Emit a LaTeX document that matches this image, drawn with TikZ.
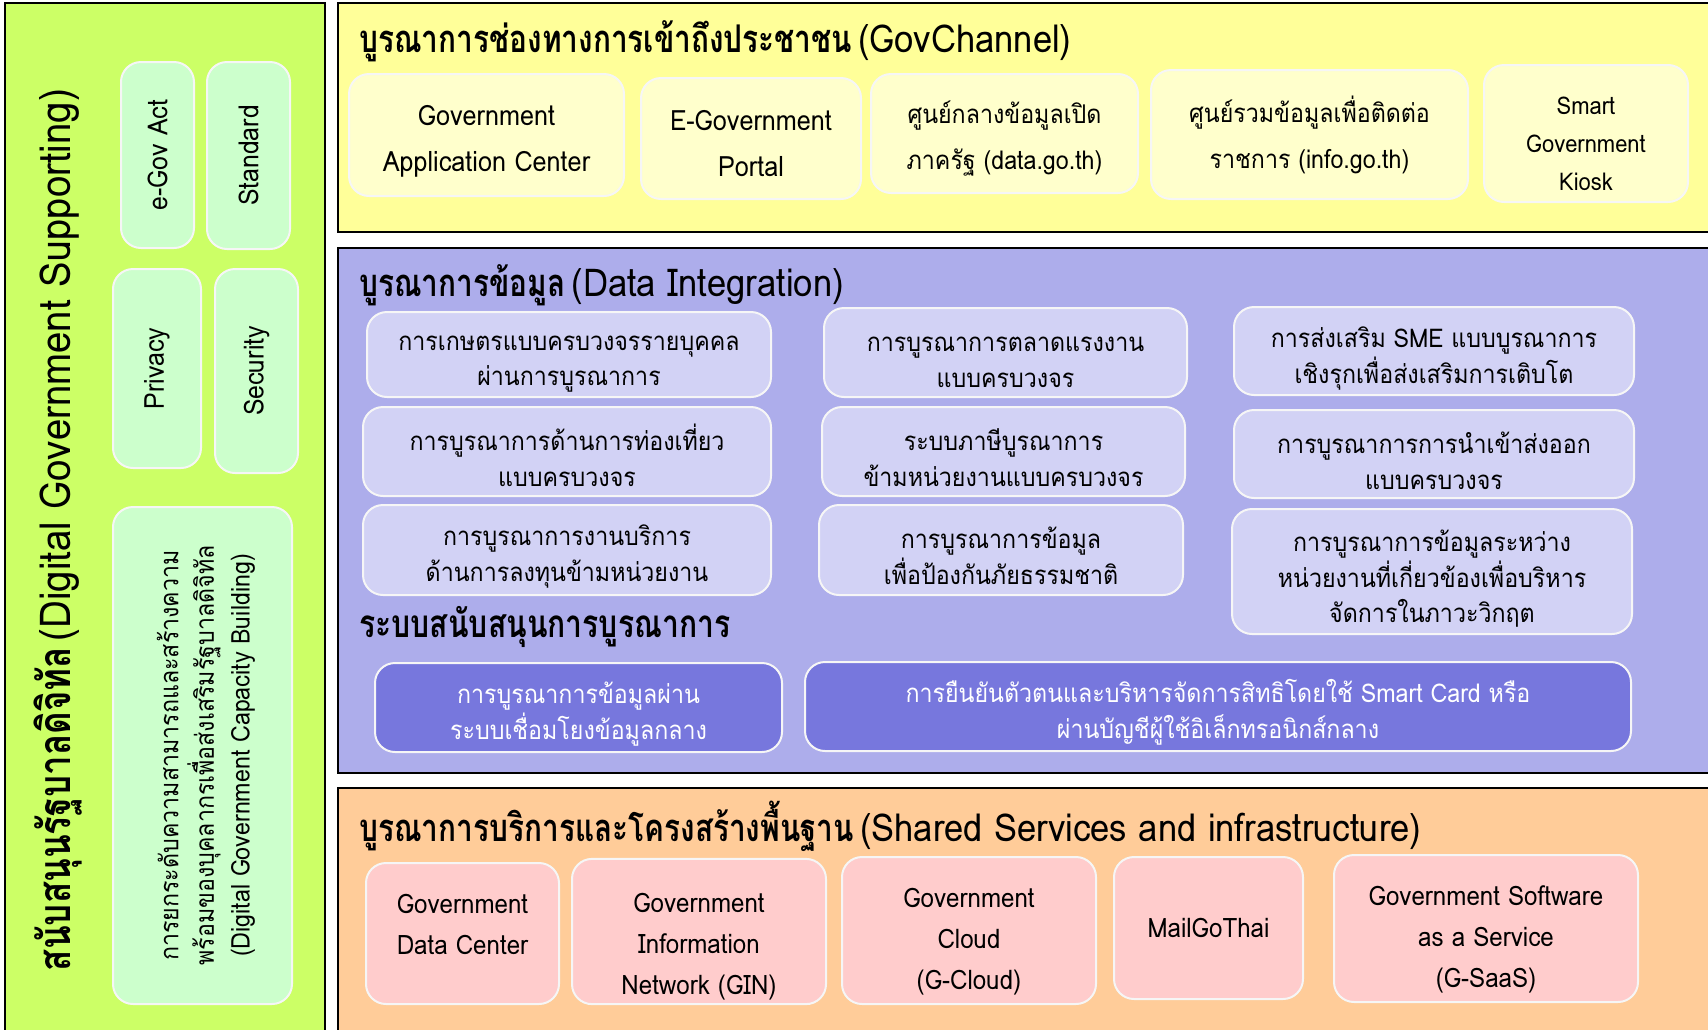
\documentclass[tikz,border=0pt]{standalone}
\usepackage{fontspec}
\setmainfont{Loma}[Script=Thai, FakeStretch=0.9]
\newfontfamily\headfont{Loma}[Script=Thai, FakeStretch=0.78]
\usepackage{tikz}
\usetikzlibrary{positioning}

\definecolor{limeBg}{HTML}{CCFF66}
\definecolor{limeTile}{HTML}{CCFFCC}
\definecolor{sunBg}{HTML}{FFFF99}
\definecolor{sunTile}{HTML}{FFFFCC}
\definecolor{lilacBg}{HTML}{ADADEB}
\definecolor{lilacTile}{HTML}{D2D2F5}
\definecolor{lilacDark}{HTML}{7777DD}
\definecolor{peachBg}{HTML}{FFCC99}
\definecolor{pinkTile}{HTML}{FFCCCC}

\tikzset{
  panel/.style={draw=black, line width=1pt},
  tile/.style={draw=white!93!gray, line width=1pt, rounded corners=10pt,
    align=center, inner sep=2pt},
  heading/.style={anchor=west, inner sep=0pt},
  side/.style={tile, fill=limeTile, rotate=90, font=\fontsize{13.8}{18}\selectfont},
  chanEn/.style={tile, fill=sunTile, font=\fontsize{14}{23}\selectfont},
  chanTh/.style={tile, fill=sunTile, font=\fontsize{12.9}{23}\selectfont},
  dataTh/.style={tile, fill=lilacTile, font=\fontsize{12.9}{17.8}\selectfont},
  hubTh/.style={dataTh, fill=lilacDark, text=white},
  infra/.style={tile, fill=pinkTile, font=\fontsize{13.4}{20.5}\selectfont},
}
\newcommand{\Head}[2]{{\headfont\bfseries\fontsize{19.1}{23}\selectfont #1} {\fontsize{19.2}{23}\selectfont #2}}
\newcommand{\Lift}[1]{\rule{0pt}{#1}}

\begin{document}
\begin{tikzpicture}[x=0.5pt, y=-0.5pt]
\useasboundingbox (0,0) rectangle (1708,1029);
\clip (0,0) rectangle (1708,1029);

\draw[panel, fill=limeBg] (5,3) rectangle (325,1040);
\node[rotate=90, inner sep=0pt] (support) at (58,530)
  {{\headfont\bfseries\fontsize{22.3}{26}\selectfont สนับสนุนรัฐบาลดิจิทัล} {\fontsize{21.3}{26}\selectfont (Digital Government Supporting)}};
\node[side, minimum width=93pt, minimum height=36.5pt] (egov) at (157.5,155) {e-Gov Act};
\node[side, minimum width=93.5pt, minimum height=41.5pt] (standard) at (248.5,155.5) {Standard};
\node[side, minimum width=99.5pt, minimum height=44pt] (privacy) at (157,368.5) {Privacy};
\node[side, minimum width=102pt, minimum height=41.5pt] (security) at (256.5,371) {Security};
\node[dataTh, fill=limeTile, rotate=90, minimum width=248.5pt, minimum height=89.5pt] (capacity) at (202.5,755.5)
  {\Lift{1.1em}การยกระดับความสามารถและสร้างความ\\พร้อมของบุคลากรเพื่อส่งเสริมรัฐบาลดิจิทัล\\(Digital Government Capacity Building)};

\draw[panel, fill=sunBg] (338,3) rectangle (1720,232);
\node[heading] (govch) at (359,41) {\Head{บูรณาการช่องทางการเข้าถึงประชาชน}{(GovChannel)}};
\node[chanEn, minimum width=137.5pt, minimum height=61pt] (appcenter) at (486.5,135) {\Lift{1.2em}Government\\Application Center};
\node[chanEn, minimum width=110pt, minimum height=60.5pt] (portal) at (751,138.5) {\Lift{1.1em}E-Government\\Portal};
\node[chanTh, minimum width=133.5pt, minimum height=59.5pt] (opendata) at (1004.5,133.5) {\Lift{1.3em}ศูนย์กลางข้อมูลเปิด\\ภาครัฐ (data.go.th)};
\node[chanTh, minimum width=158.5pt, minimum height=64.5pt] (infocenter) at (1309.5,134.5) {ศูนย์รวมข้อมูลเพื่อติดต่อ\\ราชการ (info.go.th)};
\node[chanEn, font=\fontsize{12.2}{19}\selectfont, minimum width=102pt, minimum height=68.5pt] (kiosk) at (1586,133.5) {\Lift{1.55em}Smart\\Government\\Kiosk};

\draw[panel, fill=lilacBg] (338,248) rectangle (1720,773);
\node[heading] (dataint) at (359,285) {\Head{บูรณาการข้อมูล}{(Data Integration)}};
\node[dataTh, minimum width=202pt, minimum height=42.5pt] (farm) at (569,354.5) {\Lift{1.3em}การเกษตรแบบครบวงจรรายบุคคล\\ผ่านการบูรณาการ};
\node[dataTh, minimum width=204pt, minimum height=44.5pt] (tour) at (567,451.5) {\Lift{1.3em}การบูรณาการด้านการท่องเที่ยว\\แบบครบวงจร};
\node[dataTh, minimum width=204pt, minimum height=45pt] (invest) at (567,550) {\Lift{1.3em}การบูรณาการงานบริการ\\ด้านการลงทุนข้ามหน่วยงาน};
\node[dataTh, minimum width=181.5pt, minimum height=44.5pt] (labour) at (1005.5,352.5) {\Lift{1.3em}การบูรณาการตลาดแรงงาน\\แบบครบวงจร};
\node[dataTh, minimum width=181.5pt, minimum height=44.5pt] (tax) at (1003.5,451.5) {\Lift{1.3em}ระบบภาษีบูรณาการ\\ข้ามหน่วยงานแบบครบวงจร};
\node[dataTh, minimum width=182pt, minimum height=45pt] (disaster) at (1001,550) {\Lift{1.3em}การบูรณาการข้อมูล\\เพื่อป้องกันภัยธรรมชาติ};
\node[dataTh, minimum width=200pt, minimum height=44pt] (sme) at (1434,351) {\Lift{1.4em}การส่งเสริม SME แบบบูรณาการ\\เชิงรุกเพื่อส่งเสริมการเติบโต};
\node[dataTh, minimum width=200pt, minimum height=44pt] (trade) at (1434,454) {\Lift{1.35em}การบูรณาการการนำเข้าส่งออก\\แบบครบวงจร};
\node[dataTh, minimum width=200pt, minimum height=62.5pt] (crisis) at (1432,571.5) {\Lift{1.4em}การบูรณาการข้อมูลระหว่าง\\หน่วยงานที่เกี่ยวข้องเพื่อบริหาร\\จัดการในภาวะวิกฤต};
\node[heading] (supsys) at (359,627) {{\headfont\bfseries\fontsize{19.3}{23}\selectfont ระบบสนับสนุนการบูรณาการ}};
\node[hubTh, minimum width=203.5pt, minimum height=44.5pt] (linkage) at (578.5,707.5) {\Lift{1.35em}การบูรณาการข้อมูลผ่าน\\ระบบเชื่อมโยงข้อมูลกลาง};
\node[hubTh, minimum width=413pt, minimum height=44.5pt] (identity) at (1218,706.5) {\Lift{1.35em}การยืนยันตัวตนและบริหารจัดการสิทธิโดยใช้ Smart Card หรือ\\ผ่านบัญชีผู้ใช้อิเล็กทรอนิกส์กลาง};

\draw[panel, fill=peachBg] (338,788) rectangle (1720,1040);
\node[heading] (shared) at (359,826) {\Head{บูรณาการบริการและโครงสร้างพื้นฐาน}{(Shared Services and infrastructure)}};
\node[infra, minimum width=96.5pt, minimum height=70.5pt] (datacenter) at (462.5,933.5) {\Lift{1.6em}Government\\Data Center\\\mbox{}};
\node[infra, minimum width=127pt, minimum height=70.5pt] (gin) at (699,931.5) {\Lift{1.85em}Government\\Information\\Network (GIN)};
\node[infra, minimum width=127pt, minimum height=73.5pt] (gcloud) at (969,930.5) {\Lift{1.55em}Government\\Cloud\\(G-Cloud)};
\node[infra, minimum width=94.5pt, minimum height=71pt] (mail) at (1208.5,928) {MailGoThai};
\node[infra, minimum width=152pt, minimum height=73.5pt] (gsaas) at (1486,928.5) {\Lift{1.55em}Government Software\\as a Service\\(G-SaaS)};

\end{tikzpicture}
\end{document}
